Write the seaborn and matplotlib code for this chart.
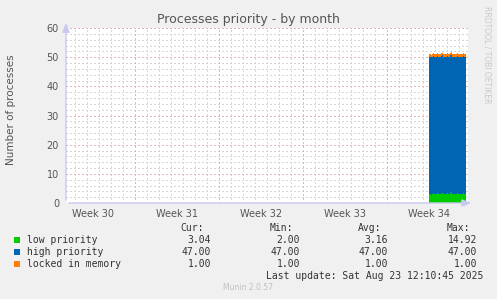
import numpy as np
import matplotlib
matplotlib.use("Agg")
import matplotlib.pyplot as plt
from matplotlib.patches import Rectangle
import seaborn as sns

# ---- data ----
title = "Processes priority - by month"
ylabel = "Number of processes"
week_labels = ["Week 30", "Week 31", "Week 32", "Week 33", "Week 34"]
series_names = ["low priority", "high priority", "locked in memory"]
series_colors = ["#00CC00", "#0066B3", "#FF8000"]
low_priority = [3.0, 3.1, 2.9, 3.0, 3.3, 3.0, 3.2, 3.1, 3.5, 3.2, 3.0, 3.1, 3.4,
                3.6, 3.2, 3.0, 3.1, 3.0, 3.3, 3.1, 3.0, 3.6, 3.7, 3.2, 3.0, 3.1,
                3.0, 3.2, 3.4, 3.1, 3.0, 3.0, 3.2, 3.1, 3.3, 3.0, 3.04]
high_priority = [47.0, 47.0, 47.0, 47.0, 47.0, 47.0, 47.0, 47.0, 47.0, 47.0, 47.0,
                 47.0, 47.0, 47.0, 47.0, 47.0, 47.0, 47.0, 47.0, 47.0, 47.0, 47.0,
                 47.0, 47.0, 47.0, 47.0, 47.0, 47.0, 47.0, 47.0, 47.0, 47.0, 47.0,
                 47.0, 47.0, 47.0, 47.0]
locked = [1.0, 1.0, 1.0, 1.0, 1.0, 1.0, 1.0, 1.0, 1.0, 1.0, 1.0, 1.0, 1.0, 1.0,
          1.0, 1.0, 1.0, 1.0, 1.0, 1.0, 1.0, 1.0, 1.0, 1.0, 1.0, 1.0, 1.0, 1.0,
          1.0, 1.0, 1.0, 1.0, 1.0, 1.0, 1.0, 1.0, 1.0]
data_start_day = 30.25   # days since left edge of graph
sample_step_days = 1 / 12.0  # 2 hour samples
stats_cur = ["3.04", "47.00", "1.00"]
stats_min = ["2.00", "47.00", "1.00"]
stats_avg = ["3.16", "47.00", "1.00"]
stats_max = ["14.92", "47.00", "1.00"]
last_update = "Last update: Sat Aug 23 12:10:45 2025"
version = "Munin 2.0.57"
side_text = "RRDTOOL / TOBI OETIKER"

# ---- figure ----
sns.set_theme(style="white")
plt.rcParams["font.family"] = ["DejaVu Sans"]
W, H = 497, 299
fig = plt.figure(figsize=(W / 100, H / 100), dpi=100, facecolor="#F0F0F0")
x0, x1, ytop, ybot = 66, 468, 28, 203
ax = fig.add_axes([x0 / W, (H - ybot) / H, (x1 - x0) / W, (ybot - ytop) / H])
ax.set_facecolor("white")

xmax = (x1 - x0) / 12.0
ax.set_xlim(0, xmax)
ax.set_ylim(0, 60)

week_bounds = [5.75, 12.75, 19.75, 26.75]
minor_c = "#d6d6d6"
major_c = "#eab4b4"
dots = (0, (1, 2))
# grid
for d in np.arange(0.75, xmax, 1.0):
    if any(abs(d - w) < 1e-6 for w in week_bounds):
        continue
    ax.axvline(d, color=minor_c, lw=0.8, ls=dots, zorder=0, antialiased=False)
for v in np.arange(2, 60.1, 2):
    if v % 10:
        ax.axhline(v, color=minor_c, lw=0.8, ls=dots, zorder=0, antialiased=False)
for d in week_bounds:
    ax.axvline(d, color=major_c, lw=0.8, ls=dots, zorder=0.5, antialiased=False)
for v in range(10, 61, 10):
    ax.axhline(v, color=major_c, lw=0.8, ls=dots, zorder=0.5, antialiased=False)

# stacked areas (step)
n = len(low_priority)
edges = data_start_day + sample_step_days * np.arange(n + 1)
base = np.zeros(n)
for vals, col in zip([low_priority, high_priority, locked], series_colors):
    top = base + np.array(vals)
    ax.fill_between(edges, np.append(base, base[-1]), np.append(top, top[-1]),
                    step="post", color=col, lw=0, zorder=2)
    base = top

for s in ax.spines.values():
    s.set_visible(False)

# axes arrows
ac = "#c8c8f0"
ax.annotate("", xy=(0, 1.045), xytext=(0, 0), xycoords="axes fraction",
            arrowprops=dict(arrowstyle="-|>,head_width=0.18,head_length=0.45", color=ac, lw=1),
            annotation_clip=False, zorder=3)
ax.annotate("", xy=(1.015, 0), xytext=(0, 0), xycoords="axes fraction",
            arrowprops=dict(arrowstyle="-|>,head_width=0.18,head_length=0.45", color=ac, lw=1),
            annotation_clip=False, zorder=3)

ax.set_yticks(range(0, 61, 10))
ax.set_yticklabels([str(v) for v in range(0, 61, 10)])
ax.tick_params(axis="y", length=0, labelsize=7, labelcolor="#555555", pad=5)
ax.set_xticks(week_bounds)
ax.set_xticklabels([""] * len(week_bounds))
ax.tick_params(axis="x", which="major", length=2, color="#e08080", direction="out")
ax.set_xticks([2.25 + 7 * i for i in range(5)], minor=True)
ax.set_xticklabels(week_labels, minor=True)
ax.tick_params(axis="x", which="minor", length=0, labelsize=7, labelcolor="#555555", pad=4)

fig.text(248 / W, 1 - 19 / H, title, ha="center", va="center", fontsize=9, color="#555555")
fig.text(11 / W, 1 - 110 / H, ylabel, ha="center", va="center", rotation=90, fontsize=7.5, color="#555555")
fig.text(487 / W, 1 - 55 / H, side_text, ha="center", va="center", rotation=-90, fontsize=5.5, color="#c8c8c8")

mono = "DejaVu Sans Mono"
tc = "#333333"
fs = 7
def fy(y):
    return 1 - y / H

fig.text(204 / W, fy(228), "Cur:", ha="right", va="center", family=mono, fontsize=fs, color=tc)
fig.text(293 / W, fy(228), "Min:", ha="right", va="center", family=mono, fontsize=fs, color=tc)
fig.text(381 / W, fy(228), "Avg:", ha="right", va="center", family=mono, fontsize=fs, color=tc)
fig.text(470 / W, fy(228), "Max:", ha="right", va="center", family=mono, fontsize=fs, color=tc)
rows_y = [240, 252, 264]
for i, (name, col) in enumerate(zip(series_names, series_colors)):
    y = rows_y[i]
    fig.add_artist(Rectangle((14 / W, fy(y + 3)), 6 / W, 6 / H, transform=fig.transFigure,
                             facecolor=col, edgecolor="none"))
    fig.text(27 / W, fy(y), name, ha="left", va="center", family=mono, fontsize=fs, color=tc)
    fig.text(211 / W, fy(y), stats_cur[i], ha="right", va="center", family=mono, fontsize=fs, color=tc)
    fig.text(300 / W, fy(y), stats_min[i], ha="right", va="center", family=mono, fontsize=fs, color=tc)
    fig.text(388 / W, fy(y), stats_avg[i], ha="right", va="center", family=mono, fontsize=fs, color=tc)
    fig.text(477 / W, fy(y), stats_max[i], ha="right", va="center", family=mono, fontsize=fs, color=tc)
fig.text(483 / W, fy(276), last_update, ha="right", va="center", family=mono, fontsize=fs, color=tc)
fig.text(248 / W, fy(288), version, ha="center", va="center", fontsize=5.5, color="#c0c0c0")

fig.savefig("out.png", dpi=100, facecolor=fig.get_facecolor())
